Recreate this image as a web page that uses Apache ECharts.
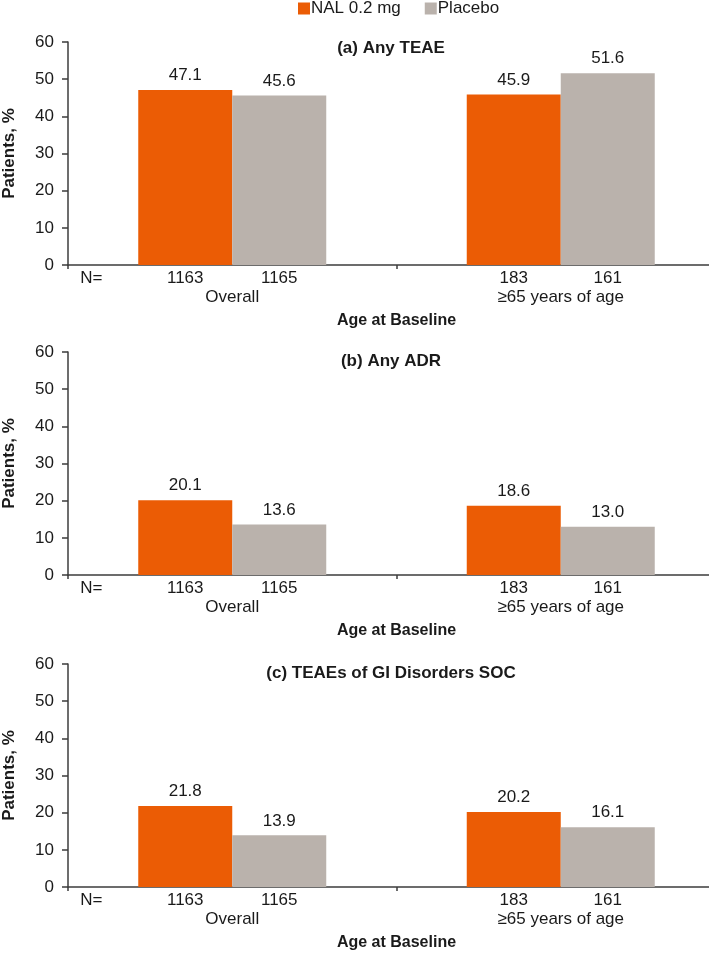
<!DOCTYPE html>
<html>
<head>
<meta charset="utf-8">
<style>
  html, body { margin: 0; padding: 0; background: #fff; }
  #chart { width: 709px; height: 953px; }
</style>
<script src="https://cdn.jsdelivr.net/npm/echarts@6/dist/echarts.min.js"></script>
</head>
<body>
<div id="chart"></div>
<script>
// ---- data ----
var categories = ['Overall', '\u226565 years of age'];
var seriesNames = ['NAL 0.2 mg', 'Placebo'];
var nalN = [1163, 183];
var placeboN = [1165, 161];
var panelTitles = ['(a) Any TEAE', '(b) Any ADR', '(c) TEAEs of GI Disorders SOC'];
var nalValues = [
  [47.1, 45.9],
  [20.1, 18.6],
  [21.8, 20.2]
];
var placeboValues = [
  [45.6, 51.6],
  [13.6, 13.0],
  [13.9, 16.1]
];
var yMax = 60;
var yInterval = 10;
var yAxisName = 'Patients, %';
var xAxisName = 'Age at Baseline';
var nLabel = 'N=';

// ---- styles ----
var FONT = '"Liberation Sans", Arial, sans-serif';
var TEXT = '#1a1a1a';
var AXIS = '#3c3c3c';
var ORANGE = '#EB5C05';
var GRAY = '#BAB2AC';

var gridTops = [42, 352, 664];
var gridHeight = 223;
var titleY = [48, 361, 673];

var grids = [], xAxes = [], yAxes = [], series = [], graphics = [];

gridTops.forEach(function (top, p) {
  grids.push({ left: 68, right: -16, top: top, height: gridHeight, containLabel: false, outerBoundsMode: 'none' });
  xAxes.push({
    type: 'category',
    gridIndex: p,
    data: categories,
    name: xAxisName,
    nameLocation: 'middle',
    nameGap: 48,
    nameMoveOverlap: false,
    nameTextStyle: { fontFamily: FONT, fontSize: 16, fontWeight: 'bold', color: TEXT },
    axisLine: { show: true, lineStyle: { color: AXIS, width: 1.5 } },
    axisTick: { show: true, length: 4, lineStyle: { color: AXIS, width: 1.5 } },
    axisLabel: {
      interval: 0,
      margin: 4,
      hideOverlap: false,
      fontFamily: FONT,
      fontSize: 17,
      color: TEXT,
      lineHeight: 19,
      formatter: function (val, idx) {
        var s = '';
        s += idx === 0 ? '{nn|' + nLabel + '}' : '{sp|}';
        s += '{n|' + nalN[idx] + '}{n|' + placeboN[idx] + '}{sp|}';
        s += '\n{g|' + val + '}';
        return s;
      },
      rich: {
        nn: { width: 94, align: 'center', fontFamily: FONT, fontSize: 17, color: TEXT, lineHeight: 19 },
        n: { width: 94, align: 'center', fontFamily: FONT, fontSize: 17, color: TEXT, lineHeight: 19 },
        sp: { width: 94, align: 'center', lineHeight: 19 },
        g: { align: 'center', fontFamily: FONT, fontSize: 17, color: TEXT, lineHeight: 19 }
      }
    }
  });
  yAxes.push({
    type: 'value',
    gridIndex: p,
    min: 0,
    max: yMax,
    interval: yInterval,
    name: yAxisName,
    nameLocation: 'middle',
    nameGap: 50,
    nameMoveOverlap: false,
    nameTextStyle: { fontFamily: FONT, fontSize: 17, fontWeight: 'bold', color: TEXT },
    splitLine: { show: false },
    axisLine: { show: true, lineStyle: { color: AXIS, width: 1.5 } },
    axisTick: { show: true, length: 6, lineStyle: { color: AXIS, width: 1.5 } },
    axisLabel: { margin: 14, fontFamily: FONT, fontSize: 17, color: TEXT }
  });
  var labelOpt = {
    show: true,
    position: 'top',
    distance: 6,
    fontFamily: FONT,
    fontSize: 17,
    color: TEXT,
    formatter: function (pr) { return Number(pr.value).toFixed(1); }
  };
  series.push({
    name: seriesNames[0], type: 'bar', xAxisIndex: p, yAxisIndex: p,
    data: nalValues[p], barWidth: 94, barGap: '0%',
    itemStyle: { color: ORANGE }, label: labelOpt, animation: false
  });
  series.push({
    name: seriesNames[1], type: 'bar', xAxisIndex: p, yAxisIndex: p,
    data: placeboValues[p], barWidth: 94, barGap: '0%',
    itemStyle: { color: GRAY }, label: labelOpt, animation: false
  });
  graphics.push({
    type: 'text',
    x: 391,
    y: titleY[p],
    style: {
      text: panelTitles[p],
      fontFamily: FONT,
      fontSize: 17,
      fontWeight: 'bold',
      fill: TEXT,
      textAlign: 'center',
      textVerticalAlign: 'middle'
    }
  });
});

var chart = echarts.init(document.getElementById('chart'), null, { renderer: 'canvas' });
chart.setOption({
  animation: false,
  backgroundColor: '#fff',
  legend: {
    data: seriesNames,
    left: 298,
    top: 0,
    itemWidth: 12,
    itemHeight: 12,
    itemGap: 24,
    icon: 'rect',
    padding: 0,
    textStyle: { fontFamily: FONT, fontSize: 17, color: TEXT, padding: [0, 0, 0, -4] }
  },
  grid: grids,
  xAxis: xAxes,
  yAxis: yAxes,
  series: series,
  graphic: graphics
});
</script>
</body>
</html>
